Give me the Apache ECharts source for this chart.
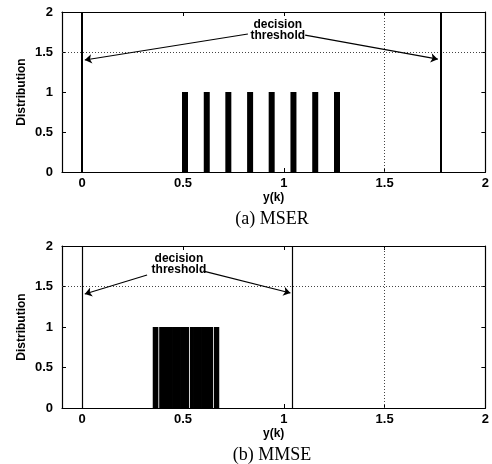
<!DOCTYPE html>
<html>
<head>
<meta charset="utf-8">
<script src="https://cdn.jsdelivr.net/npm/echarts@6/dist/echarts.min.js"></script>
<style>
  html, body { margin: 0; padding: 0; background: #fff; }
  #chart { width: 492px; height: 464px; }
</style>
</head>
<body>
<div id="chart"></div>
<script>
// ticks
const xTicks = [0, 0.5, 1, 1.5, 2];
const yTicks = [0, 0.5, 1, 1.5, 2];

// (a) MSER: distribution of y(k)
const mserLevels = [0.51, 0.618, 0.725, 0.833, 0.94, 1.048, 1.156, 1.264];
const mserHeights = [1, 1, 1, 1, 1, 1, 1, 1];
const mserThresholds = [0, 1.78];

// (b) MMSE: dense distribution of y(k)
const mmseLevels = [
  0.356, 0.364, 0.372, 0.388, 0.396, 0.404, 0.412, 0.420, 0.428, 0.436,
  0.444, 0.452, 0.460, 0.468, 0.476, 0.484, 0.492, 0.500, 0.508, 0.516,
  0.524, 0.540, 0.548, 0.556, 0.564, 0.572, 0.580, 0.588, 0.596, 0.604,
  0.612, 0.620, 0.628, 0.636, 0.644, 0.660, 0.668, 0.674
];
const mmseHeights = mmseLevels.map(() => 1);
const mmseThresholds = [0, 1.04];

const gridLevel = 1.5;
const captions = ['(a) MSER', '(b) MMSE'];

// annotation arrows (data coords): [from, to]
const mserArrows = [[[0.822, 1.725], [0.013, 1.40]], [[1.106, 1.71], [1.764, 1.41]]];
const mmseArrows = [[[0.322, 1.642], [0.013, 1.407]], [[0.602, 1.69], [1.033, 1.42]]];
const mserTextAt = [0.97, 1.91];
const mmseTextAt = [0.48, 1.91];

const tickFont = { fontFamily: 'Liberation Sans', fontWeight: 'bold', fontSize: 13, color: '#000' };

const grids = [
  { left: 62, top: 12, width: 428, height: 160 },
  { left: 62, top: 246, width: 428, height: 162 }
];

const makeX = (g) => [
  {
    type: 'value', gridIndex: g, min: -0.1, max: 2, position: 'bottom',
    name: 'y(k)', nameLocation: 'middle', nameGap: 20,
    nameTextStyle: { fontFamily: 'Liberation Sans', fontWeight: 'bold', fontSize: 12, color: '#000' },
    axisLine: { onZero: false, lineStyle: { color: '#000', width: 1.2 } },
    axisTick: { inside: true, length: 4, customValues: xTicks, lineStyle: { color: '#000' } },
    axisLabel: Object.assign({ customValues: xTicks, margin: 5 }, tickFont),
    splitLine: { show: false }
  },
  {
    type: 'value', gridIndex: g, min: -0.1, max: 2, position: 'top',
    axisLine: { onZero: false, lineStyle: { color: '#000', width: 1.2 } },
    axisTick: { inside: true, length: 4, customValues: xTicks, lineStyle: { color: '#000' } },
    axisLabel: { show: false },
    splitLine: { show: false }
  }
];

const makeY = (g) => [
  {
    type: 'value', gridIndex: g, min: 0, max: 2, interval: 0.5, position: 'left',
    name: 'Distribution', nameLocation: 'middle', nameGap: 34, nameMoveOverlap: false,
    nameTextStyle: { fontFamily: 'Liberation Sans', fontWeight: 'bold', fontSize: 12, color: '#000' },
    axisLine: { show: true, onZero: false, lineStyle: { color: '#000', width: 1.2 } },
    axisTick: { show: true, inside: true, length: 4, lineStyle: { color: '#000' } },
    axisLabel: Object.assign({ margin: 9, formatter: (v) => String(v) }, tickFont),
    splitLine: { show: false }
  },
  {
    type: 'value', gridIndex: g, min: 0, max: 2, interval: 0.5, position: 'right',
    axisLine: { show: true, onZero: false, lineStyle: { color: '#000', width: 1.2 } },
    axisTick: { show: true, inside: true, length: 4, lineStyle: { color: '#000' } },
    axisLabel: { show: false },
    splitLine: { show: false }
  }
];

const dottedGrid = {
  silent: true, symbol: 'none', label: { show: false },
  lineStyle: { color: '#444', type: [1, 2], width: 1 },
  data: [{ yAxis: gridLevel }, { xAxis: gridLevel }]
};

const thresholdLines = (vals, w) => ({
  silent: true, symbol: 'none', label: { show: false },
  lineStyle: { color: '#000', type: 'solid', width: w },
  data: vals.map(v => ({ xAxis: v }))
});

const arrowLines = (arr) => ({
  silent: true, symbol: ['none', 'arrow'], symbolSize: 7, label: { show: false },
  lineStyle: { color: '#000', type: 'solid', width: 1.2 },
  data: arr.map(a => [{ coord: a[0] }, { coord: a[1] }])
});

const option = {
  animation: false,
  backgroundColor: '#fff',
  grid: grids,
  xAxis: [...makeX(0), ...makeX(1)],
  yAxis: [...makeY(0), ...makeY(1)],
  series: [
    {
      type: 'line', xAxisIndex: 0, yAxisIndex: 0, data: [], silent: true,
      markLine: dottedGrid
    },
    {
      type: 'line', xAxisIndex: 0, yAxisIndex: 0, data: [], silent: true,
      markLine: thresholdLines(mserThresholds, 2)
    },
    {
      type: 'line', xAxisIndex: 0, yAxisIndex: 0, data: [], silent: true,
      markLine: arrowLines(mserArrows)
    },
    {
      type: 'bar', xAxisIndex: 0, yAxisIndex: 0, barWidth: 6,
      itemStyle: { color: '#000' },
      data: mserLevels.map((x, i) => [x, mserHeights[i]])
    },
    {
      type: 'line', xAxisIndex: 2, yAxisIndex: 2, data: [], silent: true,
      markLine: dottedGrid
    },
    {
      type: 'line', xAxisIndex: 2, yAxisIndex: 2, data: [], silent: true,
      markLine: thresholdLines(mmseThresholds, 1.2)
    },
    {
      type: 'line', xAxisIndex: 2, yAxisIndex: 2, data: [], silent: true,
      markLine: arrowLines(mmseArrows)
    },
    {
      type: 'bar', xAxisIndex: 2, yAxisIndex: 2, barWidth: 2.4,
      itemStyle: { color: '#000' },
      data: mmseLevels.map((x, i) => [x, mmseHeights[i]])
    }
  ]
};

const chart = echarts.init(document.getElementById('chart'));
chart.setOption(option);

// text annotations and captions
const p1 = chart.convertToPixel({ gridIndex: 0 }, mserTextAt);
const p2 = chart.convertToPixel({ gridIndex: 1 }, mmseTextAt);
const noteStyle = (p) => ({
  type: 'text', x: p[0], y: p[1],
  style: {
    text: 'decision\nthreshold', align: 'center', verticalAlign: 'top',
    fontFamily: 'Liberation Sans', fontWeight: 'bold', fontSize: 12, lineHeight: 11,
    fill: '#000', backgroundColor: '#fff'
  }
});
chart.setOption({
  graphic: [
    noteStyle(p1),
    noteStyle(p2),
    {
      type: 'text', x: 272, y: 219,
      style: { text: captions[0], align: 'center', verticalAlign: 'middle', fontFamily: 'Liberation Serif', fontSize: 18, fill: '#000' }
    },
    {
      type: 'text', x: 272, y: 455,
      style: { text: captions[1], align: 'center', verticalAlign: 'middle', fontFamily: 'Liberation Serif', fontSize: 18, fill: '#000' }
    }
  ]
});
</script>
</body>
</html>
